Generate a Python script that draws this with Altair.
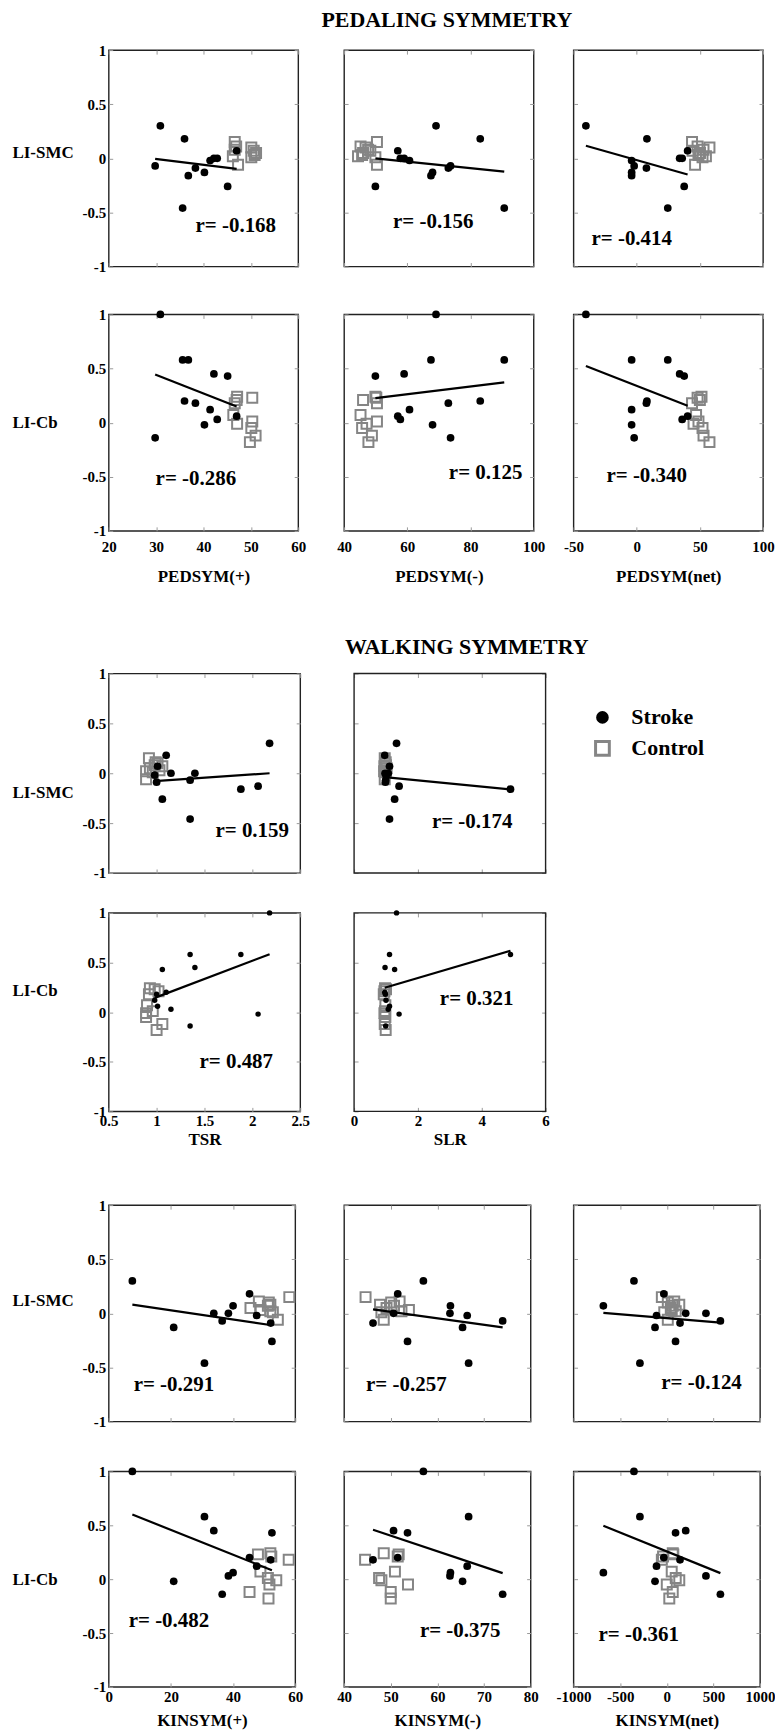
import altair as alt
import pandas as pd

FONT = "Liberation Serif"
GRAY = "#858585"
TICKC = "#9a9a9a"
FRAME = "#222222"
T = 4

# ---------------- stroke subjects (12) ----------------
STROKE_LI_SMC = [-0.07, 0.30, -0.46, 0.18, -0.16, -0.09, -0.13, -0.02, 0.00, 0.00, -0.26, 0.07]
STROKE_LI_CB = [-0.14, 1.00, 0.58, 0.20, 0.58, 0.18, -0.02, 0.12, 0.45, 0.03, 0.43, 0.06]
STROKE_PEDSYM_POS = [29.8, 30.9, 35.6, 36.0, 36.8, 38.3, 40.2, 41.4, 42.2, 42.9, 45.1, 47.0]
STROKE_PEDSYM_NEG = [73.7, 69.1, 90.7, 83.1, 67.5, 73.0, 68.0, 60.7, 59.0, 57.8, 49.9, 57.0]
STROKE_PEDSYM_NET = [-2.0, -40.2, 24.6, 8.1, -4.0, 7.7, -4.0, -4.0, 34.0, 36.0, 37.6, 40.3]
STROKE_TSR = [1.35, 2.18, 1.35, 1.10, 1.88, 1.00, 2.06, 0.98, 1.40, 1.15, 1.06, 1.01]
STROKE_SLR = [0.99, 1.33, 1.11, 0.96, 4.90, 0.98, 1.41, 1.00, 0.97, 1.07, 1.27, 1.11]
STROKE_KINSYM_POS = [36.5, 7.6, 30.8, 45.3, None, 52.1, 20.9, 47.6, 33.8, 38.5, 52.5, 40.0]
STROKE_KINSYM_NEG = [74.0, 57.0, 66.7, 51.5, None, 46.2, 65.4, 66.4, 50.6, 62.7, 53.6, 62.8]
STROKE_KINSYM_NET = [575, -352, -288, -32, None, 142, -126, -110, 203, 420, 94, -680]

# ---------------- control subjects (10) ----------------
CTRL_LI_SMC = [0.15, 0.11, 0.10, 0.08, 0.07, 0.05, 0.03, 0.02, 0.01, -0.06]
CTRL_LI_CB = [0.24, 0.23, 0.21, 0.18, 0.07, 0.01, -0.01, -0.05, -0.12, -0.18]
CTRL_PEDSYM_POS_SMCROW = [46.6, 46.9, 50.1, 46.6, 50.6, 51.1, 50.8, 46.2, 50.1, 47.3]
CTRL_PEDSYM_POS_CBROW = [47.1, 50.3, 47.0, 46.6, 46.3, 50.3, 47.1, 50.1, 51.0, 49.8]
CTRL_PEDSYM_NEG_SMCROW = [50.4, 45.2, 46.8, 47.6, 48.3, 46.0, 45.7, 44.4, 49.9, 50.4]
CTRL_PEDSYM_NEG_CBROW = [49.9, 50.2, 46.0, 50.4, 45.2, 50.4, 47.1, 45.7, 48.8, 47.7]
CTRL_PEDSYM_NET_SMCROW = [43.8, 48.2, 57.6, 52.9, 44.2, 50.1, 48.9, 54.8, 52.1, 46.2]
CTRL_PEDSYM_NET_CBROW = [51.3, 48.2, 50.0, 43.8, 47.0, 48.9, 45.0, 52.1, 52.9, 57.6]
CTRL_TSR_SMCROW = [0.92, 0.99, 1.01, 0.98, 1.06, 0.93, 1.03, 0.89, 0.96, 0.89]
CTRL_TSR_CBROW = [0.93, 0.98, 1.02, 0.92, 0.90, 0.96, 0.89, 0.89, 1.06, 1.00]
CTRL_SLR_SMCROW = [0.96, 0.99, 0.97, 1.00, 0.95, 1.02, 0.98, 0.94, 1.00, 0.96]
CTRL_SLR_CBROW = [0.97, 1.00, 0.95, 0.93, 0.98, 0.97, 0.95, 0.98, 0.96, 0.99]
CTRL_KINSYM_POS_SMCROW = [58.1, 48.3, 51.5, 52.0, 51.2, 45.6, 48.8, 52.0, 52.8, 54.4]
CTRL_KINSYM_POS_CBROW = [52.0, 48.0, 52.3, 57.9, 48.8, 51.2, 53.9, 51.7, 45.3, 51.4]
CTRL_KINSYM_NEG_SMCROW = [44.6, 51.9, 50.1, 47.7, 50.7, 49.1, 53.9, 52.3, 48.0, 48.5]
CTRL_KINSYM_NEG_CBROW = [48.5, 51.7, 51.5, 44.5, 50.9, 47.5, 48.0, 53.7, 50.0, 50.0]
CTRL_KINSYM_NET_SMCROW = [-53, 80, 11, 134, 64, 43, 53, 96, -27, 11]
CTRL_KINSYM_NET_CBROW = [64, 70, -40, -53, 53, 96, 134, 0, 64, 27]

# ---------------- correlation coefficients ----------------
R_SMC = [-0.168, -0.156, -0.414, 0.159, -0.174, -0.291, -0.257, -0.124]
R_CB = [-0.286, 0.125, -0.340, 0.487, 0.321, -0.482, -0.375, -0.361]

# ---------------- axes ----------------
X_NAMES = ["PEDSYM(+)", "PEDSYM(-)", "PEDSYM(net)", "TSR", "SLR", "KINSYM(+)", "KINSYM(-)", "KINSYM(net)"]
X_DOMAINS = [[20, 60], [40, 100], [-50, 100], [0.5, 2.5], [0, 6], [0, 60], [40, 80], [-1000, 1000]]
X_TICKS = [[20, 30, 40, 50, 60], [40, 60, 80, 100], [-50, 0, 50, 100], [0.5, 1, 1.5, 2, 2.5],
           [0, 2, 4, 6], [0, 20, 40, 60], [40, 50, 60, 70, 80], [-1000, -500, 0, 500, 1000]]
Y_TICKS = [-1, -0.5, 0, 0.5, 1]
LEGEND_LABELS = ["Stroke", "Control"]

STROKE_X = [STROKE_PEDSYM_POS, STROKE_PEDSYM_NEG, STROKE_PEDSYM_NET, STROKE_TSR, STROKE_SLR,
            STROKE_KINSYM_POS, STROKE_KINSYM_NEG, STROKE_KINSYM_NET]
CTRL_X_SMC = [CTRL_PEDSYM_POS_SMCROW, CTRL_PEDSYM_NEG_SMCROW, CTRL_PEDSYM_NET_SMCROW, CTRL_TSR_SMCROW,
              CTRL_SLR_SMCROW, CTRL_KINSYM_POS_SMCROW, CTRL_KINSYM_NEG_SMCROW, CTRL_KINSYM_NET_SMCROW]
CTRL_X_CB = [CTRL_PEDSYM_POS_CBROW, CTRL_PEDSYM_NEG_CBROW, CTRL_PEDSYM_NET_CBROW, CTRL_TSR_CBROW,
             CTRL_SLR_CBROW, CTRL_KINSYM_POS_CBROW, CTRL_KINSYM_NEG_CBROW, CTRL_KINSYM_NET_CBROW]

# label placement (pixels inside panel) -- layout only
RPOS_SMC = [(87, 176), (49, 172), (18, 189), (107, 158), (78, 149), (25, 180), (22, 180), (88, 178)]
RPOS_CB = [(47, 165), (105, 159), (33, 162), (91, 150), (86, 86), (20, 150), (76, 160), (25, 164)]


def lab_style():
    return dict(labelFont=FONT, labelFontSize=15, labelFontWeight="bold", labelColor="black",
                labelFlush=False, labelOverlap=False, labelExpr="'' + datum.value",
                titleFont=FONT, titleFontSize=17, titleFontWeight="bold", titleColor="black",
                tickColor=TICKC, tickWidth=1, tickSize=T, offset=-T, domain=False, grid=False)


def panel(vi, row, w, h, first_col, bottom, row_label_y, dot_size, lpad=3, tpad=8, inset=0, cell_w=0):
    smc = row == "smc"
    cw = cell_w or w
    ys = STROKE_LI_SMC if smc else STROKE_LI_CB
    yc = CTRL_LI_SMC if smc else CTRL_LI_CB
    xc = CTRL_X_SMC[vi] if smc else CTRL_X_CB[vi]
    df_s = pd.DataFrame({"x": STROKE_X[vi], "y": ys}).dropna()
    df_c = pd.DataFrame({"x": xc, "y": yc})
    if cell_w:
        xs = alt.Scale(domain=X_DOMAINS[vi], nice=False, zero=False, range=[inset, inset + w])
    else:
        xs = alt.Scale(domain=X_DOMAINS[vi], nice=False, zero=False)
    ysc = alt.Scale(domain=[-1, 1], nice=False, zero=False)

    st_l = dict(lab_style(), offset=-(inset + T))
    st_r = dict(lab_style(), offset=(inset + w) - T - cw)
    ax_b = alt.Axis(orient="bottom", values=X_TICKS[vi], labels=bottom, labelPadding=lpad,
                    title=X_NAMES[vi] if bottom else None, titlePadding=tpad, **lab_style())
    ax_l = alt.Axis(orient="left", values=Y_TICKS, labels=first_col, labelPadding=3,
                    title=("LI-SMC" if smc else "LI-Cb") if first_col else None,
                    titleAngle=0, titleAlign="left", titleBaseline="middle",
                    titleX=-101, titleY=row_label_y, **st_l)
    ax_t = alt.Axis(orient="top", values=X_TICKS[vi], labels=False, title=None, **lab_style())
    ax_r = alt.Axis(orient="right", values=Y_TICKS, labels=False, title=None, **st_r)

    layers = []
    if cell_w:
        frame = alt.Chart(pd.DataFrame({"a": [0]})).mark_rect(
            filled=False, stroke=FRAME, strokeWidth=1.4).encode(
            x=alt.value(inset), x2=alt.value(inset + w), y=alt.value(0), y2=alt.value(h))
        layers.append(frame)
    sq = alt.Chart(df_c).mark_point(shape="square", filled=False, color=GRAY, strokeWidth=2,
                                    size=100, opacity=1).encode(
        x=alt.X("x:Q", scale=xs, axis=ax_b), y=alt.Y("y:Q", scale=ysc, axis=ax_l))
    dots = alt.Chart(df_s).mark_circle(color="black", size=dot_size, opacity=1).encode(
        x=alt.X("x:Q", scale=xs, axis=None), y=alt.Y("y:Q", scale=ysc, axis=None))
    line = alt.Chart(df_s).transform_regression("x", "y").mark_line(
        color="black", strokeWidth=2.2).encode(
        x=alt.X("x:Q", scale=xs, axis=ax_t), y=alt.Y("y:Q", scale=ysc, axis=ax_r))
    r = R_SMC[vi] if smc else R_CB[vi]
    px, py = (RPOS_SMC if smc else RPOS_CB)[vi]
    txt = alt.Chart(pd.DataFrame({"t": [f"r= {r:.3f}"]})).mark_text(
        font=FONT, fontSize=21, fontWeight="bold", color="black", align="left", baseline="middle").encode(
        text="t:N", x=alt.value(px + inset), y=alt.value(py))
    layers += [sq, dots, line, txt]
    ch = alt.layer(*layers).resolve_axis(x="independent", y="independent")
    if cell_w:
        return ch.properties(width=cw, height=h, view=alt.ViewBackground(stroke="transparent"))
    return ch.properties(width=cw, height=h)


def text_block(text, w, h, px, py, size=22):
    return alt.Chart(pd.DataFrame({"t": [text]})).mark_text(
        font=FONT, fontSize=size, fontWeight="bold", color="black", align="center", baseline="middle").encode(
        text="t:N", x=alt.value(px), y=alt.value(py)).properties(
        width=w, height=h, view=alt.ViewBackground(stroke="transparent"))


def blank(w, h):
    return alt.Chart(pd.DataFrame({"a": [0]})).mark_point(opacity=0, size=1).encode(
        x=alt.value(1), y=alt.value(1)).properties(
        width=w, height=h, view=alt.ViewBackground(stroke="transparent"))


def legend_block(w, h):
    df = pd.DataFrame({"lab": LEGEND_LABELS})
    ysc = alt.Scale(domain=LEGEND_LABELS, range=[44, 75], padding=0)
    circ = alt.Chart(df).transform_filter(alt.datum.lab == "Stroke").mark_circle(
        color="black", size=160, opacity=1).encode(
        y=alt.Y("lab:N", scale=ysc, axis=None), x=alt.value(29))
    sqr = alt.Chart(df).transform_filter(alt.datum.lab == "Control").mark_point(
        shape="square", filled=False, color=GRAY, strokeWidth=3, size=190, opacity=1).encode(
        y=alt.Y("lab:N", scale=ysc, axis=None), x=alt.value(29))
    labs = alt.Chart(df).mark_text(font=FONT, fontSize=22, fontWeight="bold", color="black",
                                   align="left", baseline="middle").encode(
        y=alt.Y("lab:N", scale=ysc, axis=None), x=alt.value(58), text="lab:N")
    return alt.layer(circ, sqr, labs).properties(
        width=w, height=h, view=alt.ViewBackground(stroke="transparent"))


# grid columns (align "each"): 192 | 44 | 204 | 26 | 192
C0, C1, C2, C3, C4 = 192, 44, 204, 26, 192
WALK_INSET = 10


def blank_row(h):
    return [blank(C0, h), blank(C1, h), blank(C2, h), blank(C3, h), blank(C4, h)]


W1, W2, W3 = 190, 192, 187

cells = []
cells += [text_block("PEDALING SYMMETRY", W1, 47, 339, 17), blank(C1, 47), blank(C2, 47),
          blank(C3, 47), blank(C4, 47)]
cells += [panel(0, "smc", W1, 217, True, False, 103, 60), blank(C1, 217),
          panel(1, "smc", W1, 217, False, False, 0, 60), blank(C3, 217),
          panel(2, "smc", W1, 217, False, False, 0, 60)]
cells += blank_row(48)
cells += [panel(0, "cb", W1, 217, True, True, 108, 60, 8.5, 14), blank(C1, 217),
          panel(1, "cb", W1, 217, False, True, 0, 60, 8.5, 14), blank(C3, 217),
          panel(2, "cb", W1, 217, False, True, 0, 60, 8.5, 14)]
cells += [text_block("WALKING SYMMETRY", W1, 143, 359, 116), blank(C1, 143), blank(C2, 143),
          blank(C3, 143), blank(C4, 143)]
cells += [panel(3, "smc", W2, 200, True, False, 119, 60), blank(C1, 200),
          panel(4, "smc", W2, 200, False, False, 0, 60, inset=WALK_INSET, cell_w=C2),
          blank(C3, 200), legend_block(170, 200)]
cells += blank_row(40)
cells += [panel(3, "cb", W2, 199, True, True, 78, 30, 2.5, 3), blank(C1, 199),
          panel(4, "cb", W2, 199, False, True, 0, 30, 2.5, 3, inset=WALK_INSET, cell_w=C2),
          blank(C3, 199), blank(C4, 199)]
cells += blank_row(94)
cells += [panel(5, "smc", W3, 217, True, False, 96, 60), blank(C1, 217),
          panel(6, "smc", W3, 217, False, False, 0, 60), blank(C3, 217),
          panel(7, "smc", W3, 217, False, False, 0, 60)]
cells += blank_row(50)
cells += [panel(5, "cb", W3, 216, True, True, 108, 60, 2.5, 8.5), blank(C1, 216),
          panel(6, "cb", W3, 216, False, True, 0, 60, 2.5, 8.5), blank(C3, 216),
          panel(7, "cb", W3, 216, False, True, 0, 60, 2.5, 8.5)]

chart = alt.concat(*cells, columns=5, spacing=0, bounds="flush", align="each").properties(
    padding={"left": 11, "top": 0, "right": -1, "bottom": 0},
    background="white",
).configure_view(stroke=FRAME, strokeWidth=1.4).configure_axis(grid=False)

chart.save("out.html", embed_options={"renderer": "svg", "actions": False})
